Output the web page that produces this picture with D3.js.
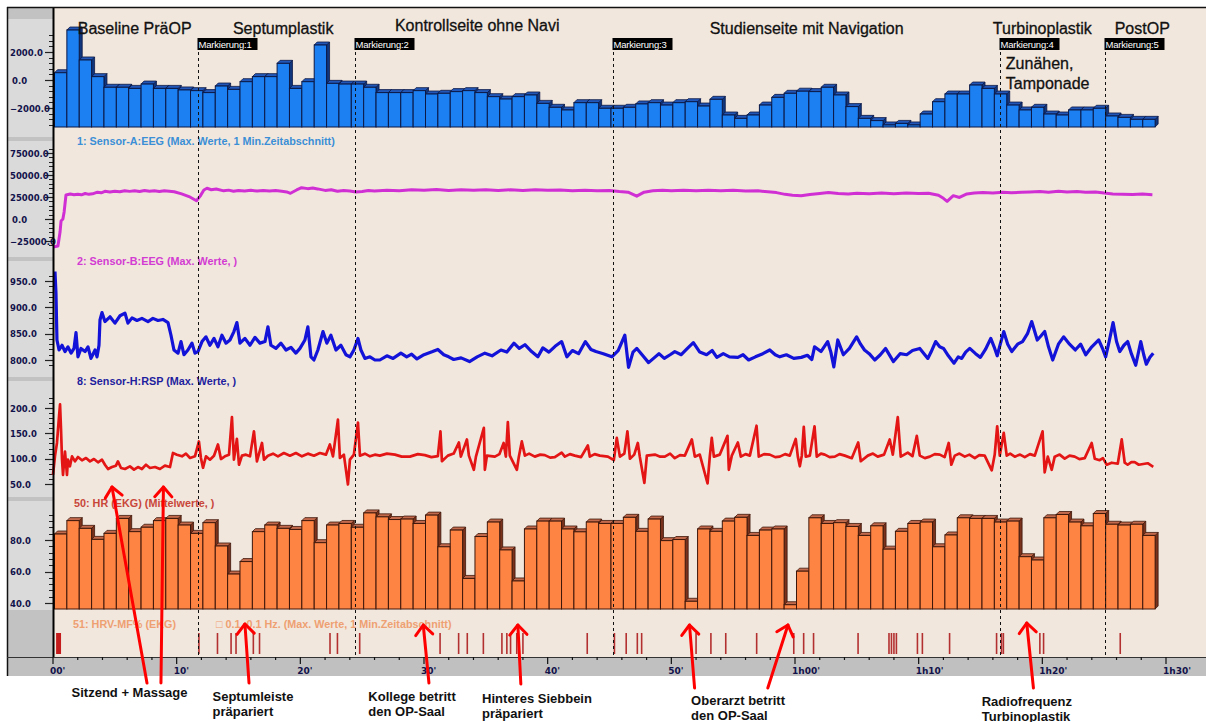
<!DOCTYPE html>
<html>
<head>
<meta charset="utf-8">
<script src="https://cdn.jsdelivr.net/npm/d3@7"></script>
<style>
body { margin: 0; background: #fff; }
svg { display: block; }
</style>
</head>
<body>
<div id="container"></div>
<script>
// ---------- data ----------
// per-minute bars (minute 0..88)
var minutes = d3.range(89);
var eegA = [520,3570,1430,240,-520,-520,-600,-290,-600,-600,-710,-760,-900,-430,-670,-120,240,240,1190,-600,
  -120,2500,-240,-290,-290,-520,-900,-900,-900,-760,-1000,-950,-830,-760,-900,-1190,-1360,-1190,-1070,-1670,
  -1950,-2140,-1620,-1620,-2020,-2020,-1950,-1710,-1620,-1790,-1620,-1550,-1860,-1380,-2500,-2740,-2500,-1790,-1240,-950,
  -800,-830,-520,-1070,-1900,-2740,-2900,-3210,-3100,-3210,-2430,-1550,-1000,-1000,-360,-600,-1000,-1790,-2140,-1950,
  -2430,-2500,-2140,-2140,-2020,-2570,-2670,-2810,-2810];
var hrvMf = [83.8,92.3,87.4,80.4,84.2,93.7,85.3,88.1,92.3,93.7,89.5,84.2,91.0,76.2,58.4,66.3,85.3,89.5,87.4,86.7,
  92.3,78.3,89.5,90.5,88.1,97.2,94.7,93.0,93.3,90.5,95.8,75.7,86.3,55.6,82.2,91.4,73.7,54.0,87.0,92.0,
  92.0,87.0,85.2,91.4,90.5,90.5,94.4,85.5,93.3,79.6,80.3,41.1,87.0,85.5,92.0,94.4,82.9,86.3,87.0,38.9,
  60.2,94.1,90.5,91.0,88.6,82.9,89.0,74.2,85.5,90.5,91.4,75.7,83.2,94.1,93.7,93.7,91.4,92.0,69.4,67.3,
  94.1,96.2,91.4,89.0,96.8,90.0,89.5,90.0,82.9];

// continuous traces: [minute, value]
var eegB = [[0,-31800],[0.4,-30700],[0.57,-14800],[0.65,-2300],[0.8,0],[0.9,8000],[1.05,27300],[1.4,28400],[1.7,27600],[2.0,28200],
  [2.3,27500],[2.6,29000],[2.9,28000],[3.2,28600],[3.6,30500],[3.9,29800],[4.2,31500],[4.6,30800],[5.0,31600],[5.4,30900],
  [5.8,32200],[6.2,31400],[6.6,32000],[7.0,31200],[7.4,32300],[7.8,31500],[8.2,32000],[8.6,31300],[9.0,32200],[9.4,31600],
  [9.8,31000],[10.4,28500],[11.0,25500],[11.6,20800],[11.9,26000],[12.2,33000],[12.45,34900],[12.8,33200],[13.2,34000],[13.8,32000],
  [14.2,32800],[14.6,31500],[15.0,32400],[15.5,31800],[16.0,32600],[16.5,31800],[17.0,32500],[17.5,31700],[18.0,32300],[18.5,31500],
  [18.9,30800],[19.2,29200],[19.7,33000],[20.1,35600],[20.6,34500],[21.0,35200],[21.4,34200],[22.0,32500],[22.5,33300],[23.0,31500],
  [23.5,32400],[24.0,31800],[24.5,30800],[25.0,31200],[25.5,32300],[26.0,31800],[27.0,32800],[28.0,32200],[29.0,33200],[30.0,32600],
  [31.0,33400],[32.0,32500],[33.0,33300],[34.0,32600],[35.0,33100],[36.0,32400],[37.0,33200],[38.0,32500],[39.0,33300],[40.0,32600],
  [41.0,33000],[42.0,32200],[43.0,32800],[44.0,32000],[45.0,32300],[45.8,31200],[46.5,30500],[47.2,26000],[47.8,30500],[48.5,32000],
  [49.3,32800],[50.0,32200],[51.0,32800],[52.0,32000],[53.0,32800],[54.0,32200],[55.0,32700],[56.0,31800],[57.0,32000],[57.8,31000],
  [58.5,30000],[59.2,28000],[59.8,27000],[60.5,26500],[61.2,27800],[62.0,29000],[62.7,30200],[63.5,29000],[64.3,28500],[65.0,29300],
  [66.0,28600],[67.0,29500],[68.0,28800],[69.0,29600],[70.0,28900],[70.8,29200],[71.6,27000],[72.0,23500],[72.3,20000],[72.8,26500],
  [73.3,24500],[73.9,28500],[74.5,29500],[75.2,30200],[76.0,29600],[76.8,30500],[77.5,29800],[78.3,30400],[79.0,30800],[79.8,31200],
  [80.5,30500],[81.3,31400],[82.0,30800],[82.8,31200],[83.5,30500],[84.3,30800],[85.0,29500],[85.7,28500],[86.5,28200],[87.3,27800],
  [88.1,28300],[88.9,27600]];

var rsp = [[0.16,968],[0.24,927],[0.32,838],[0.49,819],[0.73,828],[0.97,816],[1.21,825],[1.46,813],[1.7,822],[1.86,852],
  [2.02,806],[2.26,822],[2.59,816],[2.83,825],[3.07,803],[3.4,819],[3.56,806],[3.72,828],[3.8,876],[3.96,890],
  [4.2,873],[4.61,882],[5.01,870],[5.42,884],[5.82,889],[6.06,870],[6.39,880],[6.79,875],[7.19,879],[7.68,873],
  [8.08,879],[8.49,875],[8.89,877],[9.3,871],[9.54,847],[9.78,819],[10.11,813],[10.35,835],[10.59,810],[10.91,819],
  [11.24,832],[11.48,813],[11.72,816],[12.05,835],[12.37,844],[12.69,828],[13.02,841],[13.34,825],[13.66,847],[13.99,832],
  [14.31,838],[14.63,854],[14.87,871],[15.12,832],[15.52,841],[15.93,828],[16.33,843],[16.73,832],[17.14,835],[17.38,863],
  [17.62,828],[18.03,822],[18.43,832],[18.84,819],[19.24,824],[19.64,813],[19.97,822],[20.37,838],[20.61,863],[20.86,806],
  [21.1,800],[21.42,819],[21.83,854],[22.15,832],[22.47,847],[22.88,819],[23.28,828],[23.69,810],[24.01,806],[24.33,819],
  [24.66,841],[24.9,819],[25.22,803],[25.63,806],[26.03,800],[26.43,800],[27.0,808],[27.5,803],[28.13,813],[28.6,806],
  [29.0,811],[29.43,802],[30.0,810],[30.7,816],[31.12,820],[31.6,810],[32.0,806],[32.4,801],[33.0,804],[33.68,797],
  [34.3,806],[34.92,813],[35.5,808],[36.22,819],[36.7,815],[37.27,832],[37.7,822],[38.16,829],[38.7,816],[39.21,806],
  [39.61,823],[40.1,815],[40.6,826],[41.13,835],[41.55,806],[42.0,818],[42.5,812],[43.05,835],[43.5,820],[43.9,816],
  [44.5,812],[45.19,806],[45.7,818],[46.24,847],[46.54,786],[46.9,815],[47.21,822],[47.7,808],[48.16,795],[48.7,806],
  [49.0,812],[49.43,803],[49.9,810],[50.28,816],[50.8,810],[51.3,822],[51.78,833],[52.3,815],[52.85,810],[53.3,818],
  [53.68,805],[54.2,812],[54.7,806],[55.38,805],[55.8,810],[56.25,800],[56.8,806],[57.4,812],[57.96,819],[58.4,810],
  [58.77,806],[59.3,810],[59.9,803],[60.51,805],[61.0,809],[61.36,801],[61.58,825],[62.1,816],[62.64,835],[62.9,815],
  [63.14,787],[63.46,838],[63.91,810],[64.4,822],[64.98,844],[65.3,830],[65.62,819],[66.0,812],[66.45,800],[66.9,810],
  [67.32,822],[67.96,797],[68.5,812],[69.03,810],[69.5,818],[70.09,822],[70.74,803],[71.0,815],[71.37,835],[71.7,825],
  [72.01,822],[72.4,808],[72.86,794],[73.2,806],[73.48,803],[73.8,815],[74.13,822],[74.6,812],[74.99,805],[75.4,820],
  [75.83,841],[76.1,825],[76.35,808],[76.6,830],[76.88,854],[77.2,830],[77.53,816],[78.0,830],[78.4,835],[78.8,850],
  [79.14,873],[79.59,838],[79.9,846],[80.19,854],[80.5,825],[80.84,800],[81.3,830],[81.72,844],[82.2,830],[82.66,819],
  [83.1,830],[83.51,810],[84.0,825],[84.56,838],[84.9,820],[85.12,806],[85.4,835],[85.72,871],[86.0,835],[86.26,816],
  [86.6,828],[86.9,835],[87.2,812],[87.55,790],[87.96,835],[88.2,810],[88.41,792],[88.7,805],[88.97,813]];

var hr = [[0,68],[0.16,105],[0.32,131],[0.49,184],[0.57,207],[0.65,157],[0.73,98],[0.81,68],[0.97,114],[1.13,68],
  [1.21,98],[1.37,85],[1.54,104.6],[1.78,94.7],[2.02,103.3],[2.34,96.7],[2.67,101.3],[2.99,94.7],[3.31,99.3],[3.64,92.8],
  [3.96,98],[4.2,88.1],[4.45,79.6],[4.77,83.5],[5.09,86.2],[5.25,94.7],[5.5,81.6],[5.82,79.6],[6.22,84.8],[6.55,78.3],
  [6.87,83.5],[7.19,79.6],[7.52,88.1],[7.84,81.6],[8.25,83.5],[8.65,79.6],[9.05,86.2],[9.46,83.5],[9.7,111.2],[10.02,107.9],
  [10.43,104.6],[10.75,109.9],[11.08,101.3],[11.48,104.6],[11.8,134],[11.96,101.3],[12.13,82],[12.37,104.6],[12.69,98],[13.02,105.9],
  [13.34,128],[13.58,99.3],[13.9,104.6],[14.23,107.9],[14.47,182],[14.63,98],[14.87,139],[15.04,88],[15.28,105.9],[15.6,107.9],
  [15.93,104.6],[16.25,154],[16.49,94.7],[16.9,131],[17.06,98],[17.38,105.9],[17.79,109.9],[18.19,104.6],[18.67,111.2],[19.16,105.9],
  [19.64,111.2],[20.13,104.6],[20.61,109.9],[21.1,105.9],[21.58,111.2],[22.07,107.9],[22.39,128],[22.64,104.6],[23.04,177],[23.2,101.3],
  [23.52,107.9],[23.85,49],[24.01,98],[24.33,107.9],[24.66,171],[24.82,105.9],[25.22,109.9],[25.63,104.6],[26.03,107.9],[26.43,106],
  [27.0,110],[27.65,108],[28.2,104],[28.86,104],[29.5,109],[30.07,107],[30.6,103],[31.12,105],[31.33,154],[31.45,95],
  [31.93,106],[32.4,110],[32.82,132],[32.98,104],[33.47,138],[33.63,106],[34.03,78],[34.2,104],[34.84,161],[34.92,78],
  [35.09,106],[35.73,104],[36.1,109],[36.44,131],[36.62,104],[36.78,172],[36.94,106],[37.51,78],[37.67,104],[37.91,134],
  [38.16,106],[38.5,110],[38.96,104],[39.4,108],[39.77,107],[40.2,102],[40.58,103],[41.13,112],[41.39,104],[41.8,109],
  [42.2,106],[42.7,103],[43.25,126],[43.41,104],[43.8,109],[44.22,106],[44.87,104],[45.35,97],[45.59,141],[45.84,104],
  [46.2,110],[46.45,154],[46.65,100],[47.0,108],[47.29,131],[47.45,104],[47.82,52],[48.02,106],[48.67,108],[49.1,104],
  [49.47,104],[49.9,110],[50.28,101],[50.7,107],[51.09,106],[51.66,138],[51.9,104],[52.3,108],[52.93,51],[53.11,104],
  [53.27,141],[53.44,104],[53.92,108],[54.54,145],[54.65,78],[54.89,106],[55.38,132],[55.62,104],[56.0,109],[56.35,106],
  [56.89,165],[57.07,104],[57.5,109],[57.96,108],[58.4,103],[58.77,104],[59.2,109],[59.58,106],[60.06,139],[60.23,104],
  [60.39,85],[60.55,106],[60.71,163],[60.87,104],[61.2,106],[61.58,164],[61.76,104],[62.1,110],[62.41,108],[62.8,103],
  [63.22,104],[63.6,109],[64.03,106],[64.59,101],[65.11,132],[65.32,95],[65.89,106],[66.3,110],[66.69,104],[67.2,108],
  [67.66,138],[67.91,108],[68.31,182],[68.55,104],[69.12,112],[69.5,105],[69.85,145],[70.09,106],[70.5,101],[70.9,104],
  [71.3,109],[71.71,108],[72.1,103],[72.43,131],[72.64,88],[72.92,106],[73.3,110],[73.73,104],[74.1,108],[74.54,101],
  [74.9,107],[75.34,106],[75.91,77],[76.15,108],[76.35,164],[76.56,106],[76.88,151],[77.12,106],[77.4,110],[77.77,104],
  [78.2,108],[78.58,103],[79.0,109],[79.39,106],[80.02,154],[80.19,73],[80.44,104],[80.76,78],[81.0,104],[81.4,108],
  [81.81,100],[82.2,106],[82.62,104],[83.0,99],[83.43,101],[83.99,131],[84.24,100],[84.64,97],[84.9,101],[85.21,88],
  [85.61,92],[86.1,90],[86.42,138],[86.66,92],[86.9,88],[87.2,93],[87.47,93],[87.8,88],[88.04,89],[88.52,91],[88.97,84]];

// event ticks in the bottom strip (minutes) and the short burst at the start
var eventTimes = [11.8,13.3,14.4,14.8,16.2,16.7,22.4,23.0,24.8,31.3,32.8,33.5,34.8,36.3,36.7,37.0,37.5,38.0,43.2,
  45.4,46.35,47.25,47.6,52.0,53.2,54.4,56.9,59.9,60.7,61.5,65.1,67.6,67.8,68.0,68.2,69.9,70.3,72.5,76.3,76.7,76.85,
  79.8,80.1,86.3];
var eventBurst = [0.25, 0.65];

// markers
var markerTimes = [11.7, 24.45, 45.3, 76.6, 85.05];
var markerNames = ["Markierung:1", "Markierung:2", "Markierung:3", "Markierung:4", "Markierung:5"];

// phase captions over the top panel
var phaseNames = ["Baseline PräOP", "Septumplastik", "Kontrollseite ohne Navi", "Studienseite mit Navigation", "Turbinoplastik", "PostOP"];
var phaseTimes = [2.0, 14.55, 27.65, 53.1, 76.0, 85.85];

// notes below the chart, each with its red arrows (tail minute, tip minute)
var noteLines = [["Sitzend + Massage"], ["Septumleiste", "präpariert"], ["Kollege betritt", "den OP-Saal"],
  ["Hinteres Siebbein", "präpariert"], ["Oberarzt betritt", "den OP-Saal"], ["Radiofrequenz", "Turbinoplastik"]];
var noteTimes = [1.5, 12.9, 25.5, 34.7, 51.6, 75.1];
var arrowTail = [7.6, 8.73, 15.85, 30.4, 37.83, 51.88, 57.8, 79.28];
var arrowTip = [4.77, 8.93, 15.52, 29.94, 37.59, 51.47, 59.43, 78.74];

var xTicks = [0, 10, 20, 30, 40, 50, 60, 70, 80, 90];
var xTickLabels = ["00'", "10'", "20'", "30'", "40'", "50'", "1h00'", "1h10'", "1h20'", "1h30'"];

// ---------- drawing ----------
var width = 1206, height = 722;
var svg = d3.select("div#container").append("svg")
    .attr("width", width).attr("height", height);

var x = d3.scaleLinear().domain([0, 90]).range([53, 1166]);

var axisFont = "'DejaVu Sans', Verdana, sans-serif";
var axisInk = "#12124a";

svg.append("rect").attr("width", width).attr("height", height).attr("fill", "#fff");
// plot background
svg.append("rect").attr("x", 54).attr("y", 8).attr("width", width - 54).attr("height", 649).attr("fill", "#f2e7dd");
// left gutter
svg.append("rect").attr("x", 7).attr("y", 7).attr("width", 47).attr("height", 650).attr("fill", "#dadada");
[[7, 19], [137, 141], [257, 261], [377, 381], [497, 501], [610, 657]].forEach(function(b) {
    svg.append("rect").attr("x", 7).attr("y", b[0]).attr("width", 47).attr("height", b[1] - b[0]).attr("fill", "#c2c2c2");
});
// x axis band
svg.append("rect").attr("x", 7).attr("y", 657).attr("width", width - 7).attr("height", 19).attr("fill", "#c0c0c0");

// panels
var panels = [
    {y: d3.scaleLinear().domain([-2000, 2000]).range([108, 52]), major: [-2000, 0, 2000], step: 400, lo: 30, hi: 126},
    {y: d3.scaleLinear().domain([-25000, 75000]).range([241, 153]), major: [-25000, 0, 25000, 50000, 75000], step: 5000, lo: 146, hi: 247},
    {y: d3.scaleLinear().domain([800, 950]).range([360, 281]), major: [800, 850, 900, 950], step: 10, lo: 274, hi: 366},
    {y: d3.scaleLinear().domain([50, 200]).range([484, 408]), major: [50, 100, 150, 200], step: 10, lo: 396, hi: 486},
    {y: d3.scaleLinear().domain([40, 80]).range([603, 540]), major: [40, 60, 80], step: 4, lo: 512, hi: 609}
];
var fmt = d3.format(".1f");

panels.forEach(function(p) {
    var d0 = p.y.invert(p.hi), d1 = p.y.invert(p.lo);
    var minor = d3.range(Math.ceil(d0 / p.step) * p.step, d1, p.step);
    svg.append("g").selectAll("line").data(minor).enter().append("line")
        .attr("x1", 49).attr("x2", 53)
        .attr("y1", function(d) { return Math.round(p.y(d)) + 0.5; })
        .attr("y2", function(d) { return Math.round(p.y(d)) + 0.5; })
        .attr("stroke", "#222").attr("stroke-width", 1);
    svg.append("g").selectAll("line").data(p.major).enter().append("line")
        .attr("x1", 45).attr("x2", 53)
        .attr("y1", function(d) { return Math.round(p.y(d)) + 0.5; })
        .attr("y2", function(d) { return Math.round(p.y(d)) + 0.5; })
        .attr("stroke", "#222").attr("stroke-width", 1.2);
    svg.append("g").selectAll("text").data(p.major).enter().append("text")
        .attr("x", function(d) { return d === 0 ? 12 : 10; })
        .attr("y", function(d) { return p.y(d) + 3.5; })
        .attr("font-family", axisFont).attr("font-weight", "bold").attr("font-size", "8.5px")
        .attr("fill", axisInk)
        .text(function(d) { return fmt(d); });
});

// 3D bars
function bars3d(values, y, base, col) {
    var g = svg.append("g");
    var dpt = 3;
    values.forEach(function(v, i) {
        var x0 = x(minutes[i]) + 1.5, x1 = x(minutes[i] + 1) + 1.5, yt = y(v);
        g.append("path")
            .attr("d", "M" + x1 + "," + yt + "L" + (x1 + dpt) + "," + (yt - dpt) + "L" + (x1 + dpt) + "," + (base - dpt) + "L" + x1 + "," + base + "Z")
            .attr("fill", col.side).attr("stroke", col.edge).attr("stroke-width", 0.8);
        g.append("path")
            .attr("d", "M" + x0 + "," + yt + "L" + (x0 + dpt) + "," + (yt - dpt) + "L" + (x1 + dpt) + "," + (yt - dpt) + "L" + x1 + "," + yt + "Z")
            .attr("fill", col.top).attr("stroke", col.edge).attr("stroke-width", 0.8);
        g.append("rect")
            .attr("x", x0).attr("y", yt).attr("width", x1 - x0).attr("height", base - yt)
            .attr("fill", col.front).attr("stroke", col.edge).attr("stroke-width", 1);
    });
}
bars3d(eegA, panels[0].y, 127, {front: "#1c80f2", top: "#2257b8", side: "#10367e", edge: "#0b1845"});
bars3d(hrvMf, panels[4].y, 609, {front: "#fe8444", top: "#c46a4c", side: "#7a321c", edge: "#3e170a"});

// traces
function trace(data, y, color, w) {
    svg.append("path").datum(data)
        .attr("fill", "none").attr("stroke", color).attr("stroke-width", w)
        .attr("stroke-linejoin", "round")
        .attr("d", d3.line().x(function(d) { return x(d[0]); }).y(function(d) { return y(d[1]); }));
}
trace(eegB, panels[1].y, "#d02fd4", 3);
trace(rsp, panels[2].y, "#1212d8", 3.2);
trace(hr, panels[3].y, "#e31515", 2.7);

// event strip
svg.append("rect").attr("x", x(eventBurst[0])).attr("y", 633)
    .attr("width", x(eventBurst[1]) - x(eventBurst[0])).attr("height", 21).attr("fill", "#c41c1c");
svg.append("g").selectAll("line").data(eventTimes).enter().append("line")
    .attr("x1", function(d) { return x(d); }).attr("x2", function(d) { return x(d); })
    .attr("y1", 633).attr("y2", 654)
    .attr("stroke", "#b33030").attr("stroke-width", 1.6);

// channel titles
var titles = [
    {t: "1: Sensor-A:EEG (Max. Werte, 1 Min.Zeitabschnitt)", x: 77, y: 145, c: "#3b8fd6"},
    {t: "2: Sensor-B:EEG (Max. Werte, )", x: 77, y: 265, c: "#d23cd2"},
    {t: "8: Sensor-H:RSP (Max. Werte, )", x: 77, y: 385, c: "#1e1e9e"},
    {t: "50: HR (EKG) (Mittelwerte, )", x: 74, y: 507, c: "#c8463a"},
    {t: "51: HRV-MF% (EKG)", x: 73, y: 628, c: "#eea072"},
    {t: "\u25a1 0.1\u20250.1 Hz. (Max. Werte, 1 Min.Zeitabschnitt)", x: 216, y: 628, c: "#eea072"}
];
svg.append("g").selectAll("text").data(titles).enter().append("text")
    .attr("x", function(d) { return d.x; }).attr("y", function(d) { return d.y; })
    .attr("font-family", "'Liberation Sans', Arial, sans-serif").attr("font-weight", "bold").attr("font-size", "10.8px")
    .attr("fill", function(d) { return d.c; })
    .text(function(d) { return d.t; });

// axes lines and frame
svg.append("line").attr("x1", 53.5).attr("x2", 53.5).attr("y1", 7).attr("y2", 657).attr("stroke", "#000").attr("stroke-width", 2);
svg.append("line").attr("x1", 7).attr("x2", width).attr("y1", 7.5).attr("y2", 7.5).attr("stroke", "#111").attr("stroke-width", 1.5);
svg.append("line").attr("x1", 7.5).attr("x2", 7.5).attr("y1", 7).attr("y2", 676).attr("stroke", "#111").attr("stroke-width", 1.5);
svg.append("line").attr("x1", 7).attr("x2", width).attr("y1", 657.5).attr("y2", 657.5).attr("stroke", "#333").attr("stroke-width", 1.2);

// x axis
svg.append("g").selectAll("line").data(d3.range(0, 91, 2)).enter().append("line")
    .attr("x1", function(d) { return x(d); }).attr("x2", function(d) { return x(d); })
    .attr("y1", 657).attr("y2", function(d) { return d % 10 === 0 ? 664 : 660; })
    .attr("stroke", "#111").attr("stroke-width", 1.2);
svg.append("g").selectAll("text").data(xTicks).enter().append("text")
    .attr("x", function(d) { return x(d) - 3; }).attr("y", 674)
    .attr("font-family", axisFont).attr("font-weight", "bold").attr("font-size", "9px")
    .attr("fill", axisInk)
    .text(function(d, i) { return xTickLabels[i]; });

// markers
markerTimes.forEach(function(t, i) {
    var mx = Math.round(x(t)) + 0.5;
    svg.append("line").attr("x1", mx).attr("x2", mx).attr("y1", 40).attr("y2", 656)
        .attr("stroke", "#111").attr("stroke-width", 1).attr("stroke-dasharray", "3,3");
    svg.append("rect").attr("x", mx - 1).attr("y", 38).attr("width", 60).attr("height", 12).attr("fill", "#000");
    svg.append("text").attr("x", mx).attr("y", 47.5)
        .attr("font-family", "'Liberation Sans', Arial, sans-serif").attr("font-size", "9.5px")
        .attr("fill", "#fff").attr("letter-spacing", "-0.2")
        .text(markerNames[i]);
});

// phase captions
var capFont = "'Liberation Sans', Arial, sans-serif";
svg.append("g").selectAll("text").data(phaseNames).enter().append("text")
    .attr("x", function(d, i) { return x(phaseTimes[i]); })
    .attr("y", function(d, i) { return i === 2 ? 31 : 34; })
    .attr("font-family", capFont).attr("font-size", "16px").attr("fill", "#111")
    .attr("stroke", "#111").attr("stroke-width", 0.3)
    .text(function(d) { return d; });
svg.append("text").attr("x", x(77.05)).attr("y", 69)
    .attr("font-family", capFont).attr("font-size", "16px").attr("fill", "#111")
    .attr("stroke", "#111").attr("stroke-width", 0.3).text("Zunähen,");
svg.append("text").attr("x", x(77.05)).attr("y", 89)
    .attr("font-family", capFont).attr("font-size", "16px").attr("fill", "#111")
    .attr("stroke", "#111").attr("stroke-width", 0.3).text("Tamponade");

// notes below the axis
var noteTop = [697, 701, 701, 703, 704.5, 705.5];
noteLines.forEach(function(lines, i) {
    lines.forEach(function(s, j) {
        svg.append("text").attr("x", x(noteTimes[i])).attr("y", noteTop[i] + j * 15)
            .attr("font-family", capFont).attr("font-weight", "bold").attr("font-size", "13px")
            .attr("fill", "#111").text(s);
    });
});

// red arrows
var tipRow = [487, 487, 624, 625, 625, 625, 625, 623];
var tailRow = [683, 683, 683, 683, 684, 688, 688, 688];
arrowTip.forEach(function(t, i) {
    var x1 = x(arrowTail[i]), y1 = tailRow[i], x2 = x(t), y2 = tipRow[i];
    var ang = Math.atan2(y1 - y2, x1 - x2), len = 13, spread = 0.72;
    var g = svg.append("g").attr("stroke", "#ff0000").attr("stroke-width", 3).attr("fill", "none")
        .attr("stroke-linecap", "round").attr("stroke-linejoin", "round");
    g.append("line").attr("x1", x1).attr("y1", y1).attr("x2", x2).attr("y2", y2);
    g.append("path").attr("d",
        "M" + (x2 + len * Math.cos(ang - spread)) + "," + (y2 + len * Math.sin(ang - spread)) +
        "L" + x2 + "," + y2 +
        "L" + (x2 + len * Math.cos(ang + spread)) + "," + (y2 + len * Math.sin(ang + spread)));
});
</script>
</body>
</html>
